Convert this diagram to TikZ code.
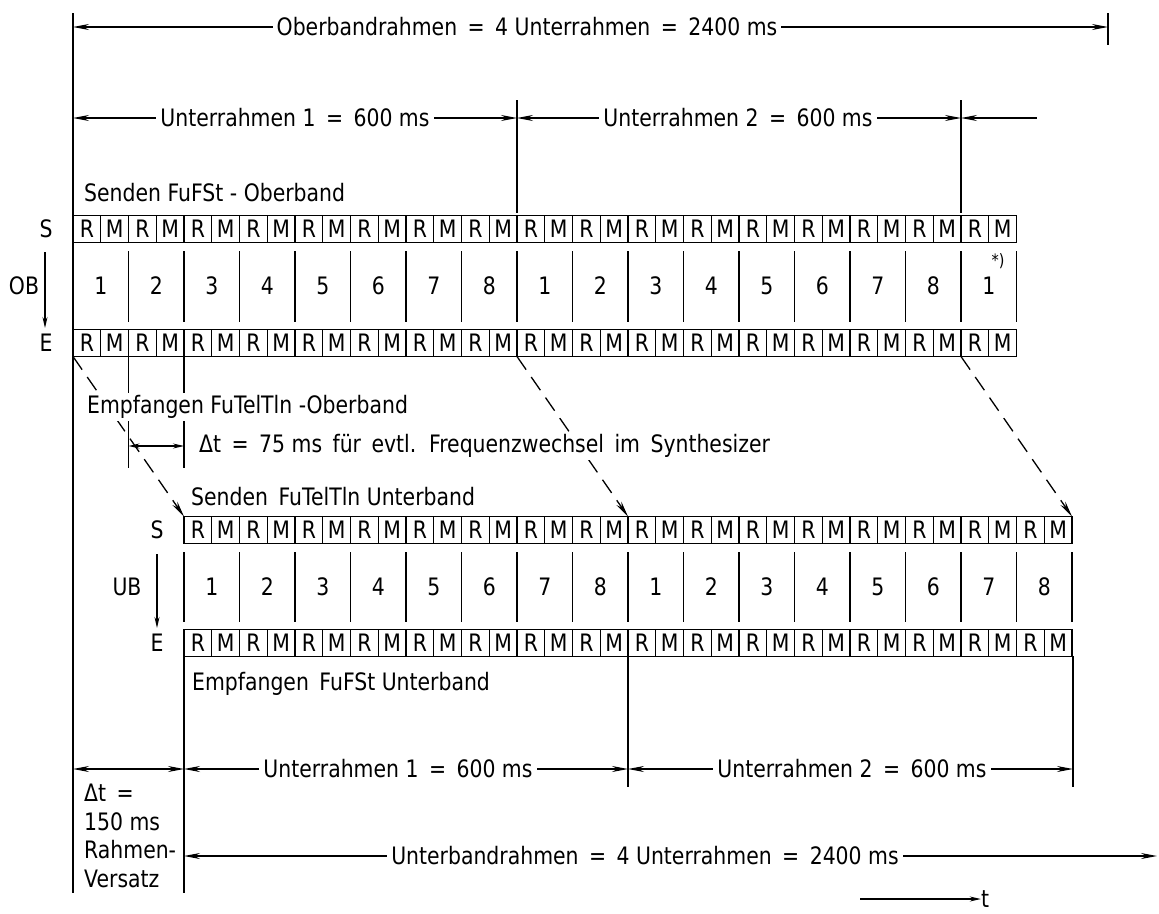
\documentclass[tikz,border=0pt]{standalone}
\usepackage{fontspec}
\setmainfont{DejaVu Sans}[FakeStretch=0.85]
\usetikzlibrary{arrows.meta}
\begin{document}
\begin{tikzpicture}[x=1pt,y=-1pt,
  font=\fontsize{24}{28.5}\selectfont,
  cell/.style={draw, line width=1.3pt, minimum width=27.75pt, minimum height=27pt, inner sep=0pt, outer sep=0pt},
  num/.style={inner sep=0pt},
  lbl/.style={inner sep=2pt, anchor=west},
  wlbl/.style={inner sep=2pt, anchor=west, fill=white},
  dimlbl/.style={fill=white, inner sep=4pt},
  bar/.style={line width=1.6pt},
  tip/.tip={Stealth[length=16pt,width=6pt]},
  smalltip/.tip={Stealth[length=11pt,width=5pt]},
  dim/.style={line width=1.2pt, tip-tip},
  sdim/.style={line width=1.2pt, smalltip-smalltip},
  dsh/.style={line width=1.3pt, dash pattern=on 16pt off 9pt, -tip},
  varr/.style={line width=1.3pt, -smalltip}
]
\fill[white] (0,0) rectangle (1159,913);
\useasboundingbox (0,0) rectangle (1159,913);

% ---------- main left line and top dimensions ----------
\coordinate (L-top) at (73,13);
\coordinate (L-bot) at (73,893);
\draw[bar] (L-top) -- (L-bot);

\coordinate (top-a) at (73,27);
\coordinate (top-b) at (1108,27);
\coordinate (top-t1) at (1108,13);
\coordinate (top-t2) at (1108,45);
\draw[bar] (top-t1) -- (top-t2);
\draw[dim] (top-a) -- (top-b);
\node[dimlbl] (obr) at (527,27) {Oberbandrahmen \,=\, 4 Unterrahmen \,=\, 2400 ms};

\coordinate (sf-a) at (73,118);
\coordinate (sf-b) at (517,118);
\coordinate (sf-c) at (961,118);
\coordinate (sf-d) at (1037,118);
\coordinate (sf-bt) at (517,100);
\coordinate (sf-bb) at (517,213);
\coordinate (sf-ct) at (961,100);
\coordinate (sf-cb) at (961,213);
\draw[bar] (sf-bt) -- (sf-bb);
\draw[bar] (sf-ct) -- (sf-cb);
\draw[dim] (sf-a) -- (sf-b);
\draw[dim] (sf-b) -- (sf-c);
\draw[line width=1.2pt, tip-] (sf-c) -- (sf-d);
\node[dimlbl] (ur1o) at (295,118) {Unterrahmen 1 \,=\, 600 ms};
\node[dimlbl] (ur2o) at (738,118) {Unterrahmen 2 \,=\, 600 ms};

\node[lbl] (sfo) at (82,193) {Senden FuFSt - Oberband};

% ---------- Oberband rows ----------
\foreach \i in {0,...,16}{
  \pgfmathsetmacro\xa{73+55.5*\i}
  \pgfmathtruncatemacro\n{mod(\i,8)+1}
  \node[cell] (obs-\i-r) at (\xa+13.875,229) {R};
  \node[cell] (obs-\i-m) at (\xa+41.625,229) {M};
  \node[cell] (obe-\i-r) at (\xa+13.875,343) {R};
  \node[cell] (obe-\i-m) at (\xa+41.625,343) {M};
  \node[num] (obn-\i) at (\xa+27.75,286) {\n};
}
\foreach \k in {0,...,17}{
  \draw[bar] ({73+55.5*\k},251) -- ({73+55.5*\k},322);
}
\node[num, font=\fontsize{17}{20}\selectfont] (star) at (998,261) {*)};

\node[num] (obS) at (46,229) {S};
\node[num] (obOB) at (24,286) {OB};
\node[num] (obE) at (46,343) {E};
\coordinate (obarr-a) at (45,252);
\coordinate (obarr-b) at (45,328);
\draw[varr] (obarr-a) -- (obarr-b);

% ---------- Unterband rows ----------
\foreach \i in {0,...,15}{
  \pgfmathsetmacro\xa{184+55.5*\i}
  \pgfmathtruncatemacro\n{mod(\i,8)+1}
  \node[cell] (ubs-\i-r) at (\xa+13.875,530) {R};
  \node[cell] (ubs-\i-m) at (\xa+41.625,530) {M};
  \node[cell] (ube-\i-r) at (\xa+13.875,643) {R};
  \node[cell] (ube-\i-m) at (\xa+41.625,643) {M};
  \node[num] (ubn-\i) at (\xa+27.75,587) {\n};
}
\foreach \k in {0,...,16}{
  \draw[bar] ({184+55.5*\k},552) -- ({184+55.5*\k},622);
}
\node[num] (ubS) at (157,530) {S};
\node[num] (ubUB) at (127,587) {UB};
\node[num] (ubE) at (157,643) {E};
\coordinate (ubarr-a) at (157,554);
\coordinate (ubarr-b) at (157,628);
\draw[varr] (ubarr-a) -- (ubarr-b);

% ---------- transfer (dashed) ----------
\draw[dsh] (obe-0-r.south west) -- (ubs-0-r.north west);
\draw[dsh] (obe-8-r.south west) -- (ubs-8-r.north west);
\draw[dsh] (obe-16-r.south west) -- (ubs-15-m.north east);

% ---------- delta t 75 ms ----------
\coordinate (d75-a) at (128.5,356);
\coordinate (d75-a2) at (128.5,468);
\coordinate (d75-b) at (184,356);
\coordinate (d75-b2) at (184,468);
\draw[bar] (d75-a) -- (d75-a2);
\draw[bar] (d75-b) -- (d75-b2);
\coordinate (d75-l) at (128.5,446);
\coordinate (d75-r) at (184,446);
\draw[sdim] (d75-l) -- (d75-r);
\node[wlbl] (efo) at (85,407) {Empfangen FuTelTln -Oberband};
\node[wlbl] (dt75) at (197,446) {Δt \,=\, 75 ms\, für\, evtl.\, Frequenzwechsel\, im\, Synthesizer};

\node[lbl] (stu) at (189,497) {Senden \,FuTelTln Unterband};
\node[lbl] (efu) at (190,684) {Empfangen \,FuFSt Unterband};

% ---------- bottom dimensions ----------
\coordinate (U-top) at (184,656);
\coordinate (U-bot) at (184,893);
\draw[bar] (U-top) -- (U-bot);
\coordinate (u1-t) at (628,656);
\coordinate (u1-b) at (628,787);
\coordinate (u2-t) at (1073,656);
\coordinate (u2-b) at (1073,787);
\draw[bar] (u1-t) -- (u1-b);
\draw[bar] (u2-t) -- (u2-b);

\coordinate (b-a) at (73,769);
\coordinate (b-b) at (184,769);
\coordinate (b-c) at (628,769);
\coordinate (b-d) at (1073,769);
\draw[dim] (b-a) -- (b-b);
\draw[dim] (b-b) -- (b-c);
\draw[dim] (b-c) -- (b-d);
\node[dimlbl] (ur1u) at (398,769) {Unterrahmen 1 \,=\, 600 ms};
\node[dimlbl] (ur2u) at (852,769) {Unterrahmen 2 \,=\, 600 ms};

\node[anchor=west, align=left, inner sep=0pt] (dt150) at (84,836) {Δt \,=\\150 ms\\Rahmen-\\Versatz};

\coordinate (ub-a) at (184,856);
\coordinate (ub-b) at (1157,856);
\draw[dim] (ub-a) -- (ub-b);
\node[dimlbl] (ubr) at (645,856) {Unterbandrahmen \,=\, 4 Unterrahmen \,=\, 2400 ms};

\coordinate (t-a) at (860,899);
\node[num] (tlbl) at (985,899) {t};
\draw[line width=1.2pt, -smalltip] (t-a) -- (tlbl.west);
\end{tikzpicture}
\end{document}
